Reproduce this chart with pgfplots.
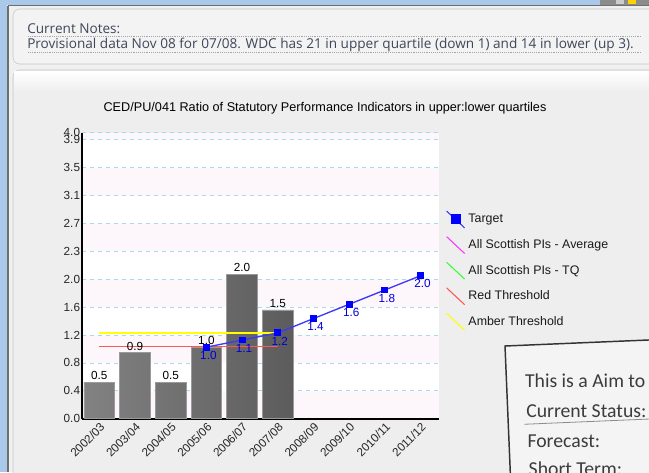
\documentclass[border=0pt]{standalone}
\usepackage{fontspec}
\setmainfont{Liberation Sans}
\newfontfamily\calib{Carlito}
\newfontfamily\notefont{Open Sans}
\usepackage{pgfplots}
\pgfplotsset{compat=1.18}
\definecolor{pagebg}{HTML}{F0F0F0}
\definecolor{winblue}{HTML}{A9C8EA}
\definecolor{winline}{HTML}{6E6E6E}
\definecolor{panelbg}{HTML}{EEEEEE}
\definecolor{notesbg}{HTML}{F3F3F3}
\definecolor{panelborder}{HTML}{C4C4C4}
\definecolor{notetext}{HTML}{3E4658}
\definecolor{bandc}{HTML}{FDF7FC}
\definecolor{gridc}{HTML}{A6DCE6}
\definecolor{barL}{HTML}{828282}
\definecolor{barR}{HTML}{5C5C5C}
\definecolor{barE}{HTML}{9A9A9A}
\definecolor{targc}{HTML}{3A3AF5}
\definecolor{redc}{HTML}{FF5555}
\definecolor{ambc}{HTML}{FFFF00}
\definecolor{magc}{HTML}{FF33FF}
\definecolor{grnc}{HTML}{33FF33}
\definecolor{popbg}{HTML}{F4F4F4}
\definecolor{poptext}{HTML}{3C3C3C}
\newcommand\band[2]{\fill[bandc] ([yshift=#1]path picture bounding box.south west) rectangle ([yshift=#2]path picture bounding box.south east);}
\begin{document}
\begin{tikzpicture}
\begin{scope}[x=0.75pt,y=-0.75pt]
  \useasboundingbox (0,0) rectangle (649,472);
  \clip (0,0) rectangle (649,472);
  \fill[pagebg] (0,0) rectangle (649,472);
  \fill[winblue] (0,0) rectangle (7,472);
  \fill[winblue] (0,0) rectangle (600,4.5);
  \fill[winline!80] (600,0) rectangle (649,5);
  \fill[yellow!70!orange] (628,0) rectangle (636,4);
  \fill[gray!40] (616,0) rectangle (624,4);
  \draw[winline, line width=1.3pt] (8,5.5) -- (8,472);
  \draw[winline, line width=1.3pt] (8,5.5) -- (649,5.5);
  % notes panel
  \draw[panelborder, fill=notesbg, rounded corners=5pt] (13,9) rectangle (690,64);
  \node[anchor=base west, inner sep=0pt, font=\notefont\fontsize{10.2}{12}\selectfont, text=notetext] at (27,33.3) {Current Notes:};
  \draw[gray!70, densely dotted] (28,36.5) -- (642,36.5);
  \node[anchor=base west, inner sep=0pt, font=\notefont\fontsize{10.2}{12}\selectfont, text=notetext] at (27,48.8) {Provisional data Nov 08 for 07/08. WDC has 21 in upper quartile (down 1) and 14 in lower (up 3).};
  \draw[gray!70, densely dotted] (28,52.5) -- (642,52.5);
  % chart panel
  \draw[panelborder, fill=panelbg, rounded corners=5pt] (13,70) rectangle (690,530);
  \shade[top color=white, bottom color=panelbg] (14.5,71.5) rectangle (649,92);
  \node[font=\fontsize{9.5}{11}\selectfont, text=black] at (325,108) {CED/PU/041 Ratio of Statutory Performance Indicators in upper:lower quartiles};
\end{scope}

\begin{axis}[
  at={(61.725pt,-314.0pt)}, anchor=south west,
  scale only axis, width=267.5pt, height=214.5pt,
  xmin=-0.476, xmax=9.515, ymin=0, ymax=4,
  axis x line*=bottom, axis y line*=left,
  axis line style={line width=1.4pt, black, -},
  axis background/.style={fill=white, path picture={
     \band{0pt}{20.91pt}\band{41.83pt}{62.74pt}\band{83.66pt}{104.57pt}
     \band{125.48pt}{146.40pt}\band{167.31pt}{188.22pt}\band{209.14pt}{214.5pt}}},
  xtick={0,...,9},
  xticklabels={2002/03,2003/04,2004/05,2005/06,2006/07,2007/08,2008/09,2009/10,2010/11,2011/12},
  x tick label style={rotate=45, anchor=north east, font=\fontsize{8.8}{9}\selectfont, text=black!85, inner sep=1.5pt},
  ytick={0,0.39,0.78,1.17,1.56,1.95,2.34,2.73,3.12,3.51,3.9,4.0},
  yticklabels={0.0,0.4,0.8,1.2,1.6,2.0,2.3,2.7,3.1,3.5,3.9,4.0},
  y tick label style={font=\fontsize{8.8}{9}\selectfont, text=black!85, inner sep=1.5pt},
  major tick length=0pt,
  ymajorgrids, grid style={dashed, color=gridc, line width=0.6pt},
  clip=false,
  /pgf/number format/assume math mode=true,
  legend style={at={(1.008,0.738)}, anchor=north west, draw=none, fill=none,
    font=\fontsize{9.3}{10}\selectfont, row sep=5.8pt, column sep=0pt,
    nodes={inner xsep=2.5pt, inner ysep=0pt, text=black!90}},
  legend cell align=left,
]
% actual values (bars)
\addplot[ybar, bar width=23pt, left color=barL, right color=barR, draw=barE, line width=0.6pt, forget plot,
  nodes near coords={\pgfmathprintnumber[fixed,fixed zerofill,precision=1]{\pgfplotspointmeta}},
  every node near coord/.append style={anchor=south, font=\fontsize{8.8}{9}\selectfont, text=black, inner sep=1.5pt}]
  coordinates {(0,0.51) (1,0.92) (2,0.51) (3,1.0) (4,2.02) (5,1.52)};
% red threshold
\addplot[redc, line width=1pt, forget plot] coordinates {(0,1.01) (5,1.01)};
% amber threshold
\addplot[ambc, line width=1.3pt, forget plot] coordinates {(0,1.2) (5,1.2)};
% target
\addplot[targc, line width=1pt, mark=square*, mark size=2.1pt, mark options={fill=blue, draw=blue}, forget plot,
  nodes near coords={\pgfmathprintnumber[fixed,fixed zerofill,precision=1]{\pgfplotspointmeta}},
  every node near coord/.append style={anchor=north, font=\fontsize{8.8}{9}\selectfont, text=blue!85!black, inner sep=1.5pt, yshift=-1pt, xshift=1.5pt}]
  coordinates {(3,1.0) (4,1.1) (5,1.2) (6,1.4) (7,1.6) (8,1.8) (9,2.0)};
\addlegendimage{legend image code/.code={\draw[targc, line width=0.8pt] (0pt,6.3pt) -- (13.5pt,-6.3pt); \fill[blue] (3.4pt,-3.1pt) rectangle (10.1pt,3.6pt);}}
\addlegendimage{legend image code/.code={\draw[magc, line width=0.8pt] (0pt,6.3pt) -- (13.5pt,-6.3pt);}}
\addlegendimage{legend image code/.code={\draw[grnc, line width=0.8pt] (0pt,6.3pt) -- (13.5pt,-6.3pt);}}
\addlegendimage{legend image code/.code={\draw[redc, line width=0.8pt] (0pt,6.3pt) -- (13.5pt,-6.3pt);}}
\addlegendimage{legend image code/.code={\draw[ambc, line width=0.8pt] (0pt,6.3pt) -- (13.5pt,-6.3pt);}}
\legend{Target, All Scottish PIs - Average, All Scottish PIs - TQ, Red Threshold, Amber Threshold}
\end{axis}

\begin{scope}[x=0.75pt,y=-0.75pt]
  \clip (0,0) rectangle (649,472);
  \begin{scope}[rotate around={2.4:(505,346)}]
    \fill[black!25] (508,349) rectangle (700,530);
    \draw[black!80, line width=1.1pt, fill=popbg] (505,346) rectangle (700,530);
    \node[anchor=base west, inner sep=0pt, font=\calib\fontsize{14.8}{18}\selectfont, text=poptext] at (523,388.5) {This is a Aim to};
    \node[anchor=base west, inner sep=0pt, font=\calib\fontsize{14.8}{18}\selectfont, text=poptext] at (523,418) {Current Status:};
    \draw[black!45, line width=0.6pt] (521,425) -- (700,425);
    \node[anchor=base west, inner sep=0pt, font=\calib\fontsize{14.8}{18}\selectfont, text=poptext] at (523,448) {Forecast:};
    \node[anchor=base west, inner sep=0pt, font=\calib\fontsize{14.8}{18}\selectfont, text=poptext] at (523,476) {Short Term:};
  \end{scope}
\end{scope}
\end{tikzpicture}
\end{document}
